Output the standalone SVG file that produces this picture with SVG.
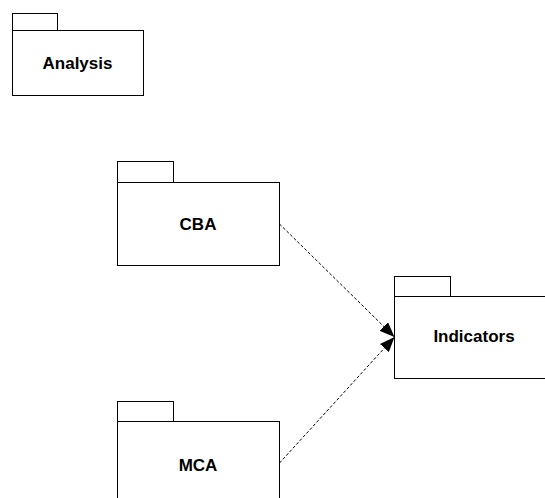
<svg xmlns="http://www.w3.org/2000/svg" width="545" height="498" viewBox="0 0 545 498">
  <style>
    .box { fill: #ffffff; stroke: #000000; stroke-width: 1; }
    .label { font-family: "Liberation Sans", Arial, sans-serif; font-size: 17px; font-weight: bold; fill: #000000; text-anchor: middle; }
    .dep { fill: none; stroke: #000000; stroke-width: 1; stroke-dasharray: 3 2; }
  </style>
  <defs>
    <marker id="arrow" markerWidth="16" markerHeight="12" refX="15" refY="6" orient="auto" markerUnits="userSpaceOnUse">
      <path d="M0,0 L15,6 L0,12 Z" fill="#000000"/>
    </marker>
  </defs>
  <rect width="545" height="498" fill="#ffffff"/>

  <g id="analysis">
    <rect class="box" x="12.5" y="13.5" width="45" height="17"/>
    <rect class="box" x="12.5" y="30.5" width="131" height="65"/>
    <text class="label" x="77.5" y="68.5">Analysis</text>
  </g>

  <g id="cba">
    <rect class="box" x="117.5" y="161.5" width="56" height="21"/>
    <rect class="box" x="117.5" y="182.5" width="162" height="83"/>
    <text class="label" x="198" y="230">CBA</text>
  </g>

  <g id="indicators">
    <rect class="box" x="394.5" y="276.5" width="56" height="20"/>
    <rect class="box" x="394.5" y="296.5" width="160" height="82"/>
    <text class="label" x="474" y="342">Indicators</text>
  </g>

  <g id="mca">
    <rect class="box" x="117.5" y="401.5" width="56" height="20"/>
    <rect class="box" x="117.5" y="421.5" width="162" height="90"/>
    <text class="label" x="198" y="471">MCA</text>
  </g>

  <g id="connectors">
    <line class="dep" x1="279.5" y1="224" x2="394.5" y2="337" marker-end="url(#arrow)"/>
    <line class="dep" x1="279.5" y1="463" x2="394.5" y2="337" marker-end="url(#arrow)"/>
  </g>
</svg>
